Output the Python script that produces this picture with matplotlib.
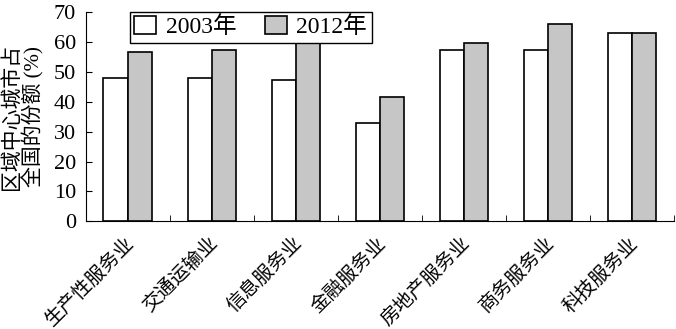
import numpy as np
import matplotlib.pyplot as plt
import matplotlib.transforms as mtransforms

# datos
categorias = ['生产性服务业', '交通运输业', '信息服务业', '金融服务业',
              '房地产服务业', '商务服务业', '科技服务业']
v2003 = [47.9, 48.0, 47.3, 33.0, 57.3, 57.3, 62.8]
v2012 = [56.6, 57.3, 59.7, 41.6, 59.7, 65.9, 62.8]
etiquetas = ['2003年', '2012年']

fuente = ['Liberation Serif', 'Noto Sans CJK SC']
plt.rcParams['font.family'] = fuente

fig = plt.figure(figsize=(6.76, 3.29), dpi=100)
ax = fig.add_axes([0.127, 0.327, 0.870, 0.637])

x = np.arange(len(categorias))
w = 0.29
ax.bar(x - w/2, v2003, w, color='white', edgecolor='black', linewidth=1.2,
       label=etiquetas[0])
ax.bar(x + w/2, v2012, w, color='#c6c6c6', edgecolor='black', linewidth=1.2,
       label=etiquetas[1])

ax.set_xlim(-0.5, len(categorias) - 0.5)
ax.set_ylim(0, 70)
ax.set_yticks(range(0, 71, 10))
ax.tick_params(axis='y', direction='in', length=4, labelsize=16, pad=7)
ax.set_xticks(x)
ax.set_xticklabels(categorias, rotation=45, ha='right', fontsize=14)
ax.set_xticks(x + 0.5, minor=True)
ax.tick_params(axis='x', which='major', length=0, pad=9)
ax.tick_params(axis='x', which='minor', direction='in', length=4)
desplaza = mtransforms.ScaledTranslation(0.1, 0, fig.dpi_scale_trans)
for lab in ax.get_xticklabels():
    lab.set_transform(lab.get_transform() + desplaza)

for s in ['top', 'right']:
    ax.spines[s].set_visible(False)

ax.set_ylabel('区域中心城市占\n全国的份额 (%)', fontsize=15, linespacing=0.95,
              labelpad=7)

ax.legend(loc='upper center', bbox_to_anchor=(0.28, 1.057), ncol=2,
          fontsize=17, frameon=True, fancybox=False, edgecolor='black',
          handlelength=0.93, handleheight=0.76, columnspacing=1.2,
          handletextpad=0.4, borderpad=0.2, framealpha=1)

plt.savefig('out.png', dpi=100)
